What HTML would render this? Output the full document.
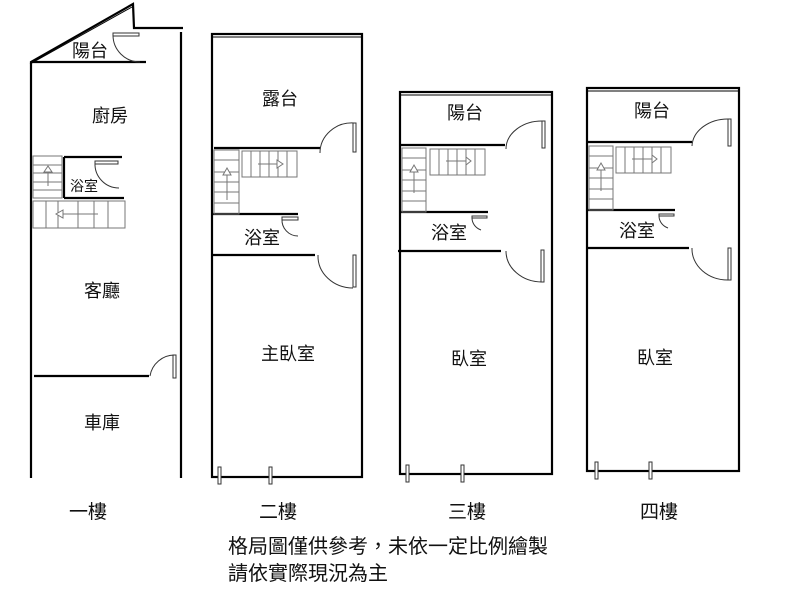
<!DOCTYPE html>
<html><head><meta charset="utf-8"><style>
html,body{margin:0;padding:0;background:#fff;width:800px;height:600px;overflow:hidden}
svg{display:block}
text{font-family:"Liberation Sans","Noto Sans CJK TC",sans-serif;fill:#111}
</style></head><body>
<svg width="800" height="600" viewBox="0 0 800 600" xmlns="http://www.w3.org/2000/svg">
<g fill="none" stroke="#000" stroke-width="2.2">
<polyline points="31,478 31,62 133,4 134,28 183,28"/>
<line x1="30" y1="64" x2="132" y2="7" stroke-width="1"/>
<line x1="31" y1="62" x2="146" y2="62"/>
<line x1="181" y1="32" x2="181" y2="478"/>
<line x1="64" y1="157" x2="122" y2="157"/>
<line x1="64" y1="157" x2="64" y2="198"/>
<line x1="64" y1="198" x2="124" y2="198"/>
<line x1="34" y1="376" x2="149" y2="376"/>
<rect x="212" y="34" width="150" height="443"/>
<line x1="214" y1="148" x2="320" y2="148"/>
<line x1="212" y1="214" x2="298" y2="214"/>
<line x1="212" y1="255" x2="315" y2="255"/>
<rect x="400" y="92" width="152" height="382"/>
<line x1="400" y1="145" x2="505" y2="145"/>
<line x1="400" y1="212" x2="488" y2="212"/>
<line x1="398" y1="251" x2="501" y2="251"/>
<rect x="587" y="88" width="152" height="383"/>
<line x1="587" y1="142" x2="692" y2="142"/>
<line x1="587" y1="210" x2="675" y2="210"/>
<line x1="587" y1="248" x2="689" y2="248"/>
</g>
<g fill="none" stroke="#000" stroke-width="1">
<line x1="212" y1="37" x2="362" y2="37"/>
<line x1="400" y1="95" x2="552" y2="95"/>
<line x1="587" y1="91" x2="739" y2="91"/>
</g>
<g fill="#fff" stroke="#333" stroke-width="1">
<rect x="113" y="33" width="26" height="3"/>
<rect x="95" y="161" width="23" height="3"/>
<rect x="173" y="355" width="3" height="23"/>
<rect x="353" y="123" width="3" height="29"/>
<rect x="282" y="217" width="16" height="3"/>
<rect x="353" y="255" width="3" height="32"/>
<rect x="542" y="121" width="3" height="27"/>
<rect x="472" y="216" width="15" height="2"/>
<rect x="541" y="250" width="3" height="32"/>
<rect x="728" y="119" width="3" height="27"/>
<rect x="659" y="214" width="15" height="2"/>
<rect x="728" y="248" width="3" height="32"/>
<rect x="218" y="467" width="3" height="17"/>
<rect x="269" y="467" width="3" height="17"/>
<rect x="406" y="465" width="3" height="17"/>
<rect x="461" y="465" width="3" height="17"/>
<rect x="595" y="462" width="3" height="17"/>
<rect x="649" y="462" width="3" height="17"/>
</g>
<g fill="none" stroke="#333" stroke-width="1">
<path d="M113,35 A27,27 0 0 0 140,62"/>
<path d="M95,163 A24,24 0 0 0 119,188"/>
<path d="M150,376 A25,25 0 0 1 175,355"/>
<path d="M320,153 A32,30 0 0 1 354,123"/>
<path d="M282,219 A16,16 0 0 0 298,236"/>
<path d="M318,255 A35,32 0 0 0 353,288"/>
<path d="M506,149 A36,28 0 0 1 543,121"/>
<path d="M472,218 A14,13 0 0 0 481,230"/>
<path d="M506,251 A36,31 0 0 0 542,282"/>
<path d="M692,146 A36,28 0 0 1 729,119"/>
<path d="M659,216 A14,13 0 0 0 668,228"/>
<path d="M692,248 A36,31 0 0 0 729,280"/>
</g>
<g fill="none" stroke="#777" stroke-width="1">
<rect x="33" y="156" width="29" height="42"/>
<line x1="33" y1="165" x2="62" y2="165"/><line x1="33" y1="173" x2="62" y2="173"/><line x1="33" y1="182" x2="62" y2="182"/><line x1="33" y1="190" x2="62" y2="190"/>
<line x1="48" y1="170" x2="48" y2="186"/><polygon points="44,172 48,166 52,172" fill="#fff"/>
<rect x="33" y="201" width="92" height="27"/>
<line x1="46" y1="201" x2="46" y2="228"/><line x1="58" y1="201" x2="58" y2="228"/><line x1="78" y1="201" x2="78" y2="228"/><line x1="94" y1="201" x2="94" y2="228"/><line x1="108" y1="201" x2="108" y2="228"/>
<line x1="62" y1="214" x2="98" y2="214"/><polygon points="63,210 56,214 63,218" fill="#fff"/>
<rect x="214" y="150" width="25" height="64"/>
<line x1="214" y1="160" x2="239" y2="160"/><line x1="214" y1="172" x2="239" y2="172"/><line x1="214" y1="182" x2="239" y2="182"/><line x1="214" y1="192" x2="239" y2="192"/><line x1="214" y1="203" x2="239" y2="203"/>
<line x1="227" y1="173" x2="227" y2="200"/><polygon points="223,175 227,168 231,175" fill="#fff"/>
<rect x="242" y="151" width="55" height="26"/>
<line x1="251" y1="151" x2="251" y2="177"/><line x1="260" y1="151" x2="260" y2="177"/><line x1="269" y1="151" x2="269" y2="177"/><line x1="278" y1="151" x2="278" y2="177"/><line x1="287" y1="151" x2="287" y2="177"/>
<line x1="258" y1="164" x2="278" y2="164"/><polygon points="277,160 283,164 277,168" fill="#fff"/>
<rect x="402" y="148" width="24" height="64"/>
<line x1="402" y1="158" x2="426" y2="158"/><line x1="402" y1="170" x2="426" y2="170"/><line x1="402" y1="180" x2="426" y2="180"/><line x1="402" y1="191" x2="426" y2="191"/><line x1="402" y1="201" x2="426" y2="201"/>
<line x1="414" y1="172" x2="414" y2="193"/><polygon points="410,172 414,165 418,172" fill="#fff"/>
<rect x="430" y="149" width="55" height="26"/>
<line x1="439" y1="149" x2="439" y2="175"/><line x1="448" y1="149" x2="448" y2="175"/><line x1="457" y1="149" x2="457" y2="175"/><line x1="466" y1="149" x2="466" y2="175"/><line x1="475" y1="149" x2="475" y2="175"/>
<line x1="446" y1="161" x2="466" y2="161"/><polygon points="466,157 471,161 466,165" fill="#fff"/>
<rect x="589" y="146" width="24" height="64"/>
<line x1="589" y1="156" x2="613" y2="156"/><line x1="589" y1="168" x2="613" y2="168"/><line x1="589" y1="178" x2="613" y2="178"/><line x1="589" y1="189" x2="613" y2="189"/><line x1="589" y1="199" x2="613" y2="199"/>
<line x1="601" y1="170" x2="601" y2="191"/><polygon points="597,170 601,163 605,170" fill="#fff"/>
<rect x="616" y="147" width="55" height="26"/>
<line x1="625" y1="147" x2="625" y2="173"/><line x1="634" y1="147" x2="634" y2="173"/><line x1="643" y1="147" x2="643" y2="173"/><line x1="652" y1="147" x2="652" y2="173"/><line x1="661" y1="147" x2="661" y2="173"/>
<line x1="632" y1="159" x2="652" y2="159"/><polygon points="652,155 657,159 652,163" fill="#fff"/>
</g>
<g font-size="18" text-anchor="middle">
<text x="90" y="57">陽台</text>
<text x="110" y="122">廚房</text>
<text x="84" y="191" font-size="14">浴室</text>
<text x="102" y="297">客廳</text>
<text x="102" y="429">車庫</text>
<text x="280" y="105">露台</text>
<text x="262" y="244">浴室</text>
<text x="288" y="360">主臥室</text>
<text x="465" y="119">陽台</text>
<text x="449" y="239">浴室</text>
<text x="469" y="365">臥室</text>
<text x="652" y="117">陽台</text>
<text x="637" y="237">浴室</text>
<text x="655" y="364">臥室</text>
</g>
<g font-size="19" text-anchor="middle">
<text x="88" y="518">一樓</text>
<text x="278" y="518">二樓</text>
<text x="467" y="518">三樓</text>
<text x="659" y="518">四樓</text>
</g>
<g font-size="20">
<text x="228" y="553">格局圖僅供參考，未依一定比例繪製</text>
<text x="228" y="580">請依實際現況為主</text>
</g>
</svg>
</body></html>
